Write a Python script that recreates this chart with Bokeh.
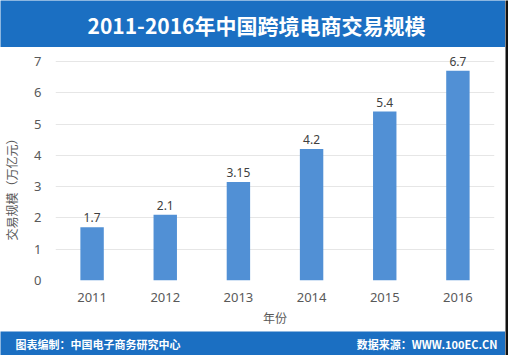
from bokeh.plotting import figure
from bokeh.layouts import column, row
from bokeh.models import ColumnDataSource, Range1d, Label, LabelSet, FactorRange
from bokeh.core.properties import value
from bokeh.embed import file_html
from bokeh.resources import INLINE

years = ["2011", "2012", "2013", "2014", "2015", "2016"]
values = [1.7, 2.1, 3.15, 4.2, 5.4, 6.7]
value_labels = ["1.7", "2.1", "3.15", "4.2", "5.4", "6.7"]
y_ticks = [0, 1, 2, 3, 4, 5, 6, 7]
title_text = "2011-2016年中国跨境电商交易规模"
y_label = "交易规模（万亿元）"
x_label = "年份"
footer_left = "图表编制：中国电子商务研究中心"
footer_right = "数据来源：WWW.100EC.CN"

BANNER = "#1b6fc2"
W = 505
LB, RB = 55, 11
FW = W - LB - RB


def banner(h, w=W, color=BANNER):
    f = figure(frame_width=w, frame_height=h, x_range=Range1d(0, w), y_range=Range1d(0, h),
               toolbar_location=None, output_backend="svg", min_border=0,
               background_fill_color=color, border_fill_color=color, outline_line_color=None)
    f.axis.visible = False
    f.grid.visible = False
    return f


# Top banner
top = banner(47)
top.add_layout(Label(x=256, y=23, text=title_text, text_color="white",
                     text_font="Noto Sans CJK SC", text_font_style="bold",
                     text_font_size="21px", text_align="center", text_baseline="middle"))

# Main chart
src = ColumnDataSource(dict(year=years, val=values, lab=value_labels))
p = figure(frame_width=FW, frame_height=230, x_range=FactorRange(*years), y_range=Range1d(0, 7.35),
           toolbar_location=None, output_backend="svg",
           min_border_left=LB, min_border_right=RB, min_border_top=3, min_border_bottom=51,
           background_fill_color="white", border_fill_color="white", outline_line_color=None)
p.vbar(x="year", top="val", width=0.32, source=src, fill_color="#5190d5", line_color=None)
p.add_layout(LabelSet(x="year", y="val", text="lab", source=src, y_offset=5,
                      text_align="center", text_baseline="bottom", text_color="#404040",
                      text_font=value("Noto Sans"), text_font_size=value("12px")))

p.yaxis.ticker = y_ticks
for ax in (p.xaxis, p.yaxis):
    ax.axis_line_color = None
    ax.major_tick_line_color = None
    ax.minor_tick_line_color = None
    ax.major_label_text_color = "#595959"
    ax.major_label_text_font = "Noto Sans"
    ax.major_label_text_font_size = "13px"
    ax.axis_label_text_color = "#595959"
    ax.axis_label_text_font = "Noto Sans CJK SC"
    ax.axis_label_text_font_size = "12px"
    ax.axis_label_text_font_style = "normal"
p.xaxis.axis_label = x_label
p.yaxis.axis_label = y_label + "\u3000\u3000\u3000\u3000"
p.yaxis.major_label_standoff = 8
p.yaxis.axis_label_standoff = 11
p.xaxis.major_label_standoff = 6
p.xaxis.axis_label_standoff = 4
p.xgrid.grid_line_color = None
p.ygrid.grid_line_color = "#e6e6e6"

# Bottom banner
bot = banner(24)
bot.add_layout(Label(x=15, y=12, text=footer_left, text_color="white",
                     text_font="Noto Sans CJK SC", text_font_style="bold",
                     text_font_size="11px", text_align="left", text_baseline="middle"))
bot.add_layout(Label(x=497, y=12, text=footer_right, text_color="white",
                     text_font="Noto Sans CJK SC", text_font_style="bold",
                     text_font_size="11px", text_align="right", text_baseline="middle"))

edge = banner(355, w=3, color="#111111")

left = column(row(top, spacing=0), row(p, spacing=0), row(bot, spacing=0), spacing=0)
layout = row(left, column(edge, spacing=0), spacing=0)
open("out.html", "w").write(file_html(layout, INLINE))
